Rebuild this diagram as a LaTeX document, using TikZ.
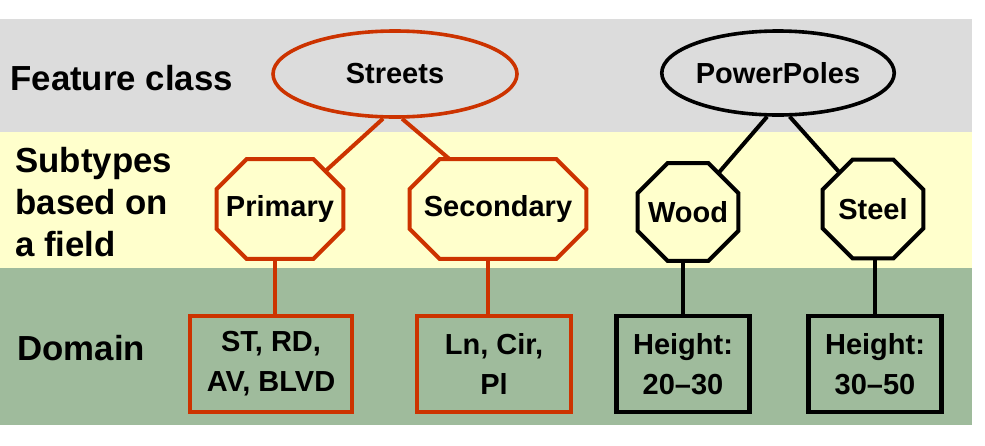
\documentclass[tikz,border=0pt]{standalone}
\usepackage{fontspec}
\setmainfont{Liberation Sans}
\usepackage{xcolor}
\usetikzlibrary{shapes.geometric}

\definecolor{bandgray}{HTML}{DCDCDC}
\definecolor{bandyellow}{HTML}{FFFFCC}
\definecolor{bandgreen}{HTML}{9FBB9C}
\definecolor{streetred}{HTML}{CC3300}

\newcommand{\subtypeoutline}[2][black]{%
  \draw[line width=2pt, draw=#1, line join=miter]
    ([xshift=15pt]#2.north west) -- ([xshift=-15pt]#2.north east)
    -- ([yshift=-15pt]#2.north east) -- ([yshift=15pt]#2.south east)
    -- ([xshift=-15pt]#2.south east) -- ([xshift=15pt]#2.south west)
    -- ([yshift=15pt]#2.south west) -- ([yshift=-15pt]#2.north west) -- cycle;}

\begin{document}
\begin{tikzpicture}[
    x=0.5pt, y=-0.5pt,
    font=\bfseries\fontsize{14.5}{20}\selectfont,
    rowlabel/.style={
        anchor=west,
        align=left,
        inner sep=0pt,
        font=\bfseries\fontsize{17.4}{21}\selectfont
    },
    featureclass/.style={
        ellipse,
        draw,
        line width=1.8pt,
        inner sep=0pt
    },
    subtypebox/.style={
        rectangle,
        inner sep=0pt
    },
    domainbox/.style={
        rectangle,
        draw,
        fill=bandgreen,
        line width=2.3pt,
        align=center,
        inner sep=0pt,
        minimum height=48pt
    },
    link/.style={line width=2pt}
]
\useasboundingbox (0,0) rectangle (985,445);
\fill[bandgray]   (0,19)  rectangle (972,132);
\fill[bandyellow] (0,132) rectangle (972,268);
\fill[bandgreen]  (0,268) rectangle (972,425);

\node[rowlabel] (lfeature) at (10,78)  {Feature class};
\node[rowlabel] (lsubtype) at (15,202) {Subtypes\\based on\\a field};
\node[rowlabel] (ldomain)  at (17,348) {Domain};

\node[featureclass, draw=streetred, minimum width=122pt, minimum height=43pt] (streets) at (395,74) {Streets};
\node[featureclass, minimum width=107pt, minimum height=42pt] (powerpoles) at (778,73) {PowerPoles};

\node[subtypebox, minimum width=63pt, minimum height=49.5pt] (primary)   at (280,209) {Primary};
\node[subtypebox, minimum width=88pt, minimum height=49.5pt] (secondary) at (498,209) {Secondary};
\node[subtypebox, minimum width=50pt, minimum height=48.5pt] (wood)  at (688,212) {Wood};
\node[subtypebox, minimum width=50pt, minimum height=49pt]   (steel) at (873,209) {Steel};
\subtypeoutline[streetred]{primary}
\subtypeoutline[streetred]{secondary}
\subtypeoutline{wood}
\subtypeoutline{steel}

\node[domainbox, draw=streetred, minimum width=81pt] (stbox) at (271,364) {ST, RD,\\AV, BLVD};
\node[domainbox, draw=streetred, minimum width=77pt] (lnbox) at (494,364) {Ln, Cir,\\Pl};
\node[domainbox, minimum width=66.5pt] (woodbox)  at (683,364) {Height:\\20–30};
\node[domainbox, minimum width=66.5pt] (steelbox) at (875,364) {Height:\\30–50};

\draw[link, streetred] (streets.255) -- ([xshift=-9pt, yshift=-6pt]primary.north east);
\draw[link, streetred] (streets.279) -- ([xshift=20pt]secondary.north west);
\draw[link] (powerpoles.256) -- ([xshift=-10pt, yshift=-5pt]wood.north east);
\draw[link] (powerpoles.285) -- ([xshift=8.5pt, yshift=-6.5pt]steel.north west);

\draw[link, streetred] ([xshift=2pt]stbox.north)  -- ([xshift=2pt]stbox.north |- primary.south);
\draw[link, streetred] ([xshift=-3pt]lnbox.north) -- ([xshift=-3pt]lnbox.north |- secondary.south);
\draw[link] (woodbox.north)  -- (woodbox.north |- wood.south);
\draw[link] (steelbox.north) -- (steelbox.north |- steel.south);
\end{tikzpicture}
\end{document}
